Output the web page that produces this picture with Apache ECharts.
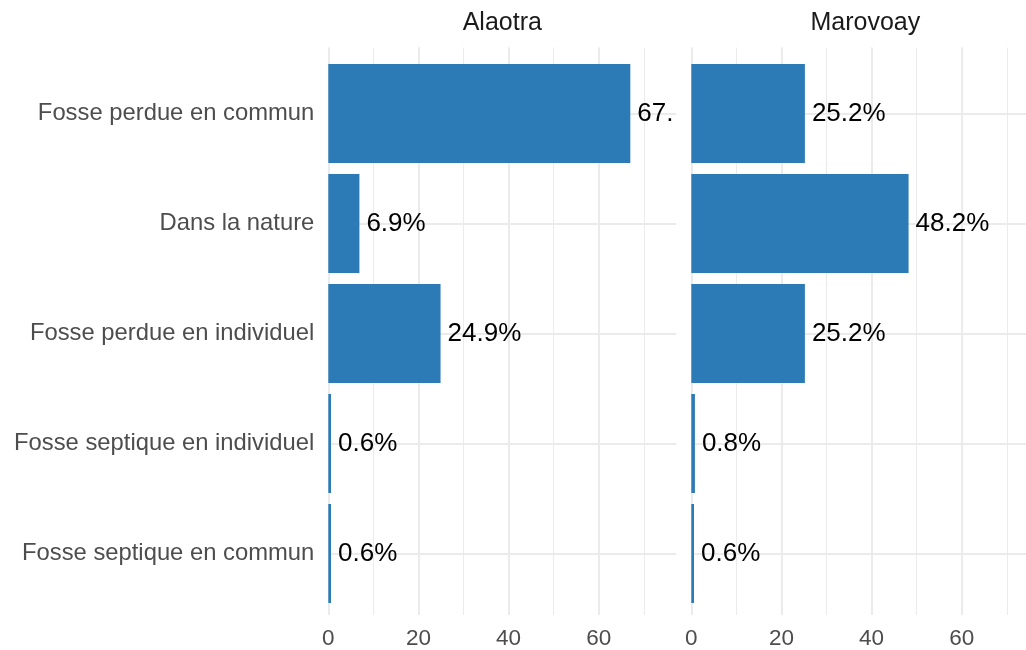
<!DOCTYPE html>
<html>
<head>
<meta charset="utf-8">
<script src="https://cdn.jsdelivr.net/npm/echarts@6/dist/echarts.min.js"></script>
<style>
html,body{margin:0;padding:0;background:#fff;overflow:hidden;}
#chart{width:1045px;height:650px;}
</style>
</head>
<body>
<div id="chart"></div>
<script>
// ---- data ----
const categories = [
  "Fosse perdue en commun",
  "Dans la nature",
  "Fosse perdue en individuel",
  "Fosse septique en individuel",
  "Fosse septique en commun"
];
const panels = ["Alaotra", "Marovoay"];
const alaotraValues = [67.0, 6.9, 24.9, 0.6, 0.6];
const marovoayValues = [25.2, 48.2, 25.2, 0.8, 0.6];
const xTicks = [0, 20, 40, 60];

// ---- layout ----
const XMAX = 77.2;
const PANEL_W = 348;
const PANEL_LEFT = [328.3, 691.3];
const BAR_TOP = 58.5, BAR_H = 550;
const BG_TOP = 47.5, BG_H = 572;
const LABEL_GAP = 7;
const pxPerUnit = PANEL_W / XMAX;
const GRID_COLOR = '#ebebeb';
const FONT = '"Liberation Sans", Arial, Helvetica, sans-serif';

function barData(vals) {
  return vals.map(v => ({
    value: v,
    label: {
      width: Math.max(0, (XMAX - v) * pxPerUnit - LABEL_GAP),
      overflow: 'truncate',
      ellipsis: ''
    }
  }));
}

const grids = [], xAxes = [], yAxes = [], series = [], titles = [];
const valueSets = [alaotraValues, marovoayValues];

panels.forEach((name, p) => {
  grids.push({left: PANEL_LEFT[p], top: BAR_TOP, width: PANEL_W, height: BAR_H, containLabel: false});
});
panels.forEach((name, p) => {
  grids.push({left: PANEL_LEFT[p], top: BG_TOP, width: PANEL_W, height: BG_H, containLabel: false});
});

// bar grid axes
panels.forEach((name, p) => {
  xAxes.push({type: 'value', gridIndex: p, min: 0, max: XMAX, show: false});
  yAxes.push({
    type: 'category', gridIndex: p, data: categories, inverse: true,
    axisLine: {show: false}, axisTick: {show: false}, splitLine: {show: false},
    axisLabel: {show: p === 0, fontSize: 23.8, color: '#4d4d4d', margin: 14, fontFamily: FONT}
  });
});
// background grid axes
panels.forEach((name, p) => {
  const g = 2 + p;
  xAxes.push({
    type: 'value', gridIndex: g, position: 'bottom', min: 0, max: XMAX, interval: 10,
    axisLine: {show: false}, axisTick: {show: false}, axisLabel: {show: false},
    splitLine: {show: true, showMinLine: true, showMaxLine: false, lineStyle: {color: GRID_COLOR, width: 1}}
  });
  xAxes.push({
    type: 'value', gridIndex: g, position: 'bottom', min: 0, max: XMAX, interval: 20,
    axisLine: {show: false}, axisTick: {show: false},
    axisLabel: {
      show: true, showMaxLabel: false, fontSize: 22.5, color: '#4d4d4d', margin: 12, fontFamily: FONT,
      formatter: v => (xTicks.indexOf(v) >= 0 ? String(v) : '')
    },
    splitLine: {show: true, showMinLine: true, showMaxLine: false, lineStyle: {color: GRID_COLOR, width: 2}}
  });
  yAxes.push({type: 'value', gridIndex: g, min: 0, max: 1, show: false});
  titles.push({
    text: name, left: PANEL_LEFT[p] + PANEL_W / 2, top: 11, textAlign: 'center', padding: 0,
    textStyle: {fontSize: 25, fontWeight: 'normal', color: '#1a1a1a', fontFamily: FONT}
  });
});

panels.forEach((name, p) => {
  series.push({
    type: 'bar', name: name, xAxisIndex: p, yAxisIndex: p,
    data: barData(valueSets[p]),
    barWidth: 99, z: 3,
    itemStyle: {color: '#2c7bb6'},
    label: {
      show: true, position: 'right', distance: LABEL_GAP, fontSize: 26, color: '#000',
      fontFamily: FONT,
      formatter: d => d.value.toFixed(1) + '%'
    },
    markLine: {
      silent: true, z: 1, symbol: ['none', 'none'], animation: false,
      label: {show: false},
      lineStyle: {color: GRID_COLOR, width: 2, type: 'solid'},
      emphasis: {disabled: true},
      data: categories.map(c => ({yAxis: c}))
    }
  });
});

const chart = echarts.init(document.getElementById('chart'), null, {renderer: 'canvas'});
chart.setOption({
  backgroundColor: '#fff',
  animation: false,
  title: titles,
  grid: grids,
  xAxis: xAxes,
  yAxis: yAxes,
  series: series
});
</script>
</body>
</html>
